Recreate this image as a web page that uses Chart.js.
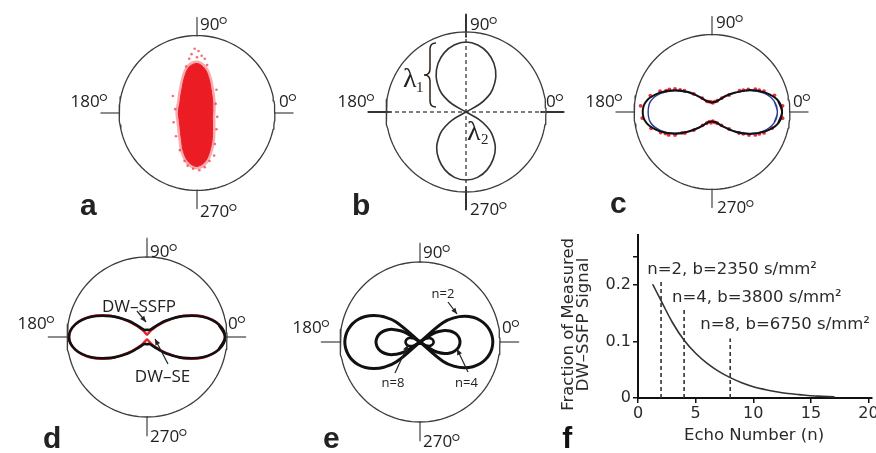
<!DOCTYPE html>
<html><head><meta charset="utf-8">
<script src="https://cdn.jsdelivr.net/npm/chart.js@4.4.0/dist/chart.umd.min.js"></script>
<style>
html,body{margin:0;padding:0;background:#fff;overflow:hidden;width:876px;height:453px;position:relative}
canvas{position:absolute}
</style></head><body>
<canvas id="ca" width="300" height="250" style="left:47px;top:-12px"></canvas>
<canvas id="cb" width="300" height="250" style="left:316px;top:-13px"></canvas>
<canvas id="cc" width="300" height="250" style="left:562px;top:-13px"></canvas>
<canvas id="cd" width="300" height="250" style="left:-3px;top:212px"></canvas>
<canvas id="ce" width="300" height="250" style="left:270px;top:217px"></canvas>
<canvas id="cf" width="321" height="228" style="left:555px;top:225px"></canvas>
<script>
// ================= DATA =================
const ANG10 = [0,10,20,30,40,50,60,70,80,90,100,110,120,130,140,150,160,170,180,190,200,210,220,230,240,250,260,270,280,290,300,310,320,330,340,350];
const TICK_SPAN = [1, 1.23];
const TICK_SPAN_B = [0.94, 1.22];
const FRAME_DIRS = [0, 90, 180, 270];

// (a) dense red point cloud: outline radius per angle + sparse outlying points
const A_CLOUD_R = [.20,.205,.215,.235,.26,.30,.36,.46,.58,.64,.60,.48,.38,.32,.28,.255,.245,.24,.24,.24,.245,.26,.285,.33,.40,.52,.64,.69,.63,.50,.39,.31,.26,.23,.21,.20];
const A_OUT_X = [-0.03,0.02,-0.07,0.06,0.10,-0.10,0.00,0.13,-0.14,-0.31,-0.28,-0.30,-0.27,0.25,0.24,0.26,0.25,0.23,0.22,-0.22,-0.12,0.10,-0.05,0.03,0.16,-0.16];
const A_OUT_Y = [0.83,0.80,0.76,0.74,0.70,0.70,0.72,0.62,0.60,0.22,0.05,-0.12,-0.30,0.30,0.12,-0.05,-0.21,-0.40,-0.55,-0.48,-0.68,-0.70,-0.72,-0.74,-0.62,-0.62];

// (b) two-lobed diffusion profile (lambda1 / lambda2)
const B_UP_ANG = [28,30,35,40,50,60,70,80,90,100,110,120,130,140,145,150,152];
const B_UP_R   = [0,.20,.33,.43,.58,.70,.79,.85,.875,.85,.79,.70,.58,.43,.33,.20,0];
const B_LO_ANG = [332,330,325,320,310,300,290,280,270,260,250,240,230,220,215,210,208];
const B_LO_R   = [0,.19,.32,.42,.57,.68,.77,.83,.85,.83,.77,.68,.57,.42,.32,.19,0];

// (c) measured (black), fit (blue), samples (red)
const C_BLACK_R = [.90,.86,.73,.57,.39,.27,.18,.14,.13,.12,.13,.145,.175,.26,.40,.56,.72,.85,.89,.85,.72,.56,.39,.265,.18,.14,.13,.12,.13,.14,.18,.26,.40,.565,.73,.86];
const C_BLUE_R  = [.84,.81,.71,.555,.385,.26,.18,.14,.13,.125,.13,.14,.18,.26,.385,.55,.70,.80,.82,.80,.70,.55,.385,.26,.18,.14,.13,.125,.13,.14,.18,.26,.385,.555,.71,.81];
const C_RED_ANG = [5,15,25,35,45,55,65,75,85,95,105,115,125,135,145,155,165,175,185,195,205,215,225,235,245,255,265,275,285,295,305,315,325,335,345,355,22,28,32,38,142,148,152,158,202,208,212,218,322,328,332,338];
const C_RED_R   = [.91,.83,.67,.49,.31,.22,.16,.14,.12,.13,.14,.15,.22,.33,.50,.65,.82,.92,.90,.81,.66,.47,.33,.21,.16,.13,.14,.12,.14,.16,.21,.31,.49,.67,.80,.91,.72,.63,.55,.45,.45,.56,.62,.72,.71,.63,.56,.44,.44,.56,.63,.72];

// (d) DW-SSFP (black) vs DW-SE (red)
const D_SSFP_R = [.975,.91,.739,.521,.324,.187,.117,.094,.09,.09,.09,.094,.117,.187,.324,.521,.739,.91,.975,.91,.739,.521,.324,.187,.117,.094,.09,.09,.09,.094,.117,.187,.324,.521,.739,.91];
const D_SE_R   = [.975,.91,.75,.535,.31,.16,.085,.05,.035,.03,.035,.05,.085,.16,.31,.535,.75,.91,.975,.91,.75,.535,.31,.16,.085,.05,.035,.03,.035,.05,.085,.16,.31,.535,.75,.91];

// (e) profiles for n = 2, 4, 8 (right lobe / left lobe)
const E2_RA = [-45,-40,-35,-30,-25,-20,-15,-10,-5,0,5,10,15,20,25,30,35,40,45];
const E2_RR = [0,.379,.532,.643,.730,.797,.847,.882,.903,.91,.903,.882,.847,.797,.730,.643,.532,.379,0];
const E2_LA = [225,220,215,210,205,200,195,190,185,180,175,170,165,160,155,150,145,140,135];
const E2_LR = [0,.39,.55,.665,.755,.825,.875,.91,.932,.94,.932,.91,.875,.825,.755,.665,.55,.39,0];
const E4_RA = [-36,-33,-30,-25,-20,-15,-10,-5,0,5,10,15,20,25,30,33,36];
const E4_RR = [0,.18,.255,.34,.40,.445,.476,.494,.50,.494,.476,.445,.40,.34,.255,.18,0];
const E4_LA = [216,213,210,205,200,195,190,185,180,175,170,165,160,155,150,147,144];
const E4_LR = [0,.20,.28,.373,.441,.49,.524,.543,.55,.543,.524,.49,.441,.373,.28,.20,0];
const E8_RR = [0,.061,.087,.116,.136,.151,.162,.168,.17,.168,.162,.151,.136,.116,.087,.061,0];
const E8_LR = [0,.065,.092,.122,.144,.16,.171,.178,.18,.178,.171,.16,.144,.122,.092,.065,0];

// (f) fraction of measured DW-SSFP signal vs echo number
const ECHO_N = [1.3,2,3,4,5,6,7,8,9,10,11,12,13,14,15,16,17];
const SIGNAL = [0.200,0.172,0.133,0.102,0.079,0.061,0.047,0.036,0.027,0.020,0.015,0.011,0.008,0.006,0.004,0.003,0.002];
const DASH_N = [2,4,8];
const DASH_TOP = [0.207,0.158,0.105];
const F_LABELS = ['n=2, b=2350 s/mm²','n=4, b=3800 s/mm²','n=8, b=6750 s/mm²'];
const X_TICKS = [0,5,10,15,20];
const Y_TICKS = [0,0.1,0.2,0.25];
const Y_TICK_LABELS = ['0','0.1','0.2',''];

// ================= HELPERS =================
const pol = (a, r) => ({x: r*Math.cos(a*Math.PI/180), y: r*Math.sin(a*Math.PI/180)});
const polyline = (angs, rs) => angs.map((a,i) => pol(a, rs[i]));
const closedLoop = (angs, rs) => { const p = polyline(angs, rs); return [p[p.length-1], ...p, p[0], p[1]]; };
const L = (pts, color, w, extra) => Object.assign({type:'line', data:pts, borderColor:color, borderWidth:w, pointRadius:0, fill:false, tension:0, borderCapStyle:'round', borderJoinStyle:'round'}, extra||{});
const P = (pts, color, r) => ({type:'scatter', data:pts, backgroundColor:color, borderWidth:0, pointRadius:r, pointStyle:'circle'});

function frameSets(tickColor, span) {
  const circ = []; for (let a = 0; a <= 360; a += 3) circ.push(pol(a, 1));
  const sets = [L(circ, '#3c3c3c', 1.3)];
  FRAME_DIRS.forEach(a => sets.push(L(span.map(r => pol(a, r)), tickColor, 2)));
  return sets;
}

const SANS = '"Open Sans", "Noto Sans", sans-serif';
const overlay = {
  id: 'overlay',
  afterDatasetsDraw(chart, args, o) {
    if (!o || (!o.texts && !o.arrows && !o.brace)) return;
    const ctx = chart.ctx, sx = chart.scales.x, sy = chart.scales.y;
    const cx = sx.getPixelForValue(0), cy = sy.getPixelForValue(0);
    const X = v => o.data ? sx.getPixelForValue(v) : cx + v;
    const Y = v => o.data ? sy.getPixelForValue(v) : cy + v;
    ctx.save();
    ctx.fillStyle = ctx.strokeStyle = '#222';
    (o.arrows || []).forEach(a => {
      const x1 = X(a[0]), y1 = Y(a[1]), x2 = X(a[2]), y2 = Y(a[3]);
      ctx.lineWidth = 1.2;
      ctx.beginPath(); ctx.moveTo(x1, y1); ctx.lineTo(x2, y2); ctx.stroke();
      const g = Math.atan2(y2-y1, x2-x1), Lh = 6, W = 2.6;
      ctx.beginPath(); ctx.moveTo(x2, y2);
      ctx.lineTo(x2 - Lh*Math.cos(g) + W*Math.sin(g), y2 - Lh*Math.sin(g) - W*Math.cos(g));
      ctx.lineTo(x2 - Lh*Math.cos(g) - W*Math.sin(g), y2 - Lh*Math.sin(g) + W*Math.cos(g));
      ctx.closePath(); ctx.fill();
    });
    if (o.brace) {
      const b = o.brace; // [xTip, xStem, xEnd, yTop, yMid, yBot]
      ctx.lineWidth = 1.5; ctx.strokeStyle = '#2a2218';
      ctx.beginPath();
      ctx.moveTo(X(b[2]), Y(b[3]));
      ctx.quadraticCurveTo(X(b[1]), Y(b[3]), X(b[1]), Y(b[3]+6));
      ctx.lineTo(X(b[1]), Y(b[4]-6));
      ctx.quadraticCurveTo(X(b[1]), Y(b[4]), X(b[0]), Y(b[4]));
      ctx.quadraticCurveTo(X(b[1]), Y(b[4]), X(b[1]), Y(b[4]+6));
      ctx.lineTo(X(b[1]), Y(b[5]-6));
      ctx.quadraticCurveTo(X(b[1]), Y(b[5]), X(b[2]), Y(b[5]));
      ctx.stroke();
    }
    (o.texts || []).forEach(it => {
      const font = it.font || o.font;
      ctx.font = font;
      const w = ctx.measureText(it.t).width;
      let dw = 0;
      if (it.deg) { ctx.font = o.degFont; dw = ctx.measureText('°').width * 0.8; }
      const tot = w + dw;
      ctx.save();
      ctx.translate(X(it.x), Y(it.y));
      if (it.rot) ctx.rotate(it.rot);
      const x0 = it.align === 'right' ? -tot : it.align === 'center' ? -tot/2 : 0;
      ctx.textAlign = 'left';
      ctx.textBaseline = it.base || 'alphabetic';
      ctx.fillStyle = it.color || o.color || '#222';
      ctx.font = font;
      ctx.fillText(it.t, x0, 0);
      if (it.deg) { ctx.font = o.degFont; ctx.fillText('°', x0 + w - 1.5, o.degDy || 0); }
      ctx.restore();
    });
    ctx.restore();
  }
};

const DEG_FONT = '17px ' + SANS;
function degTexts(n, e, w, s) {
  return [
    {t:'90', deg:true, x:n[0], y:n[1]},
    {t:'0', deg:true, x:e[0], y:e[1]},
    {t:'180', deg:true, x:w[0], y:w[1], align:'right'},
    {t:'270', deg:true, x:s[0], y:s[1]}
  ];
}
const LETTER = 'bold 30px "Liberation Sans", Arial, sans-serif';

function polarChart(id, datasets, ov) {
  ov.font = ov.font || DEG_FONT;
  ov.degFont = '300 24px ' + SANS;
  ov.degDy = 4;
  return new Chart(document.getElementById(id), {
    type: 'scatter',
    data: {datasets},
    options: {
      responsive: false, animation: false, events: [],
      layout: {padding: 0},
      plugins: {legend: {display: false}, tooltip: {enabled: false}, overlay: ov},
      scales: {
        x: {type: 'linear', display: false, min: -1.875, max: 1.875},
        y: {type: 'linear', display: false, min: -1.5625, max: 1.5625}
      }
    },
    plugins: [overlay]
  });
}

// ---------- (a) ----------
polarChart('ca', [
  P(A_OUT_X.map((x,i) => ({x, y:A_OUT_Y[i]})), 'rgba(238,50,60,0.7)', 1.3),
  L(closedLoop(ANG10, A_CLOUD_R), '#ec1c24', 1, {fill:'shape', backgroundColor:'#ec1c24', tension:0.35}),
  L(closedLoop(ANG10, A_CLOUD_R), 'rgba(240,70,80,0.45)', 6, {tension:0.35}),
  ...frameSets('#8c8c8c', TICK_SPAN)
], {texts: [
  ...degTexts([3,-83],[82,-6],[-89,-6],[3,104]),
  {t:'a', x:-117, y:102, font:LETTER}
]});

// ---------- (b) ----------
(function(){
  const up = polyline(B_UP_ANG, B_UP_R), lo = polyline(B_LO_ANG, B_LO_R);
  const path = [...up, ...lo.slice(1)];
  polarChart('cb', [
    L(path, '#333', 1.6, {tension:0.35}),
    L([pol(0,1), pol(180,1)], '#555', 1.5, {borderDash:[4,3], borderCapStyle:'butt'}),
    L([pol(90,1), pol(270,1)], '#555', 1.5, {borderDash:[4,3], borderCapStyle:'butt'}),
    ...frameSets('#333', TICK_SPAN_B)
  ], {
    brace: [-42, -36, -30, -69, -37, -5],
    texts: [
      ...degTexts([4,-82],[80,-5],[-91,-5],[4,103]),
      {t:'λ', x:-63, y:-25, font:'28px "Liberation Serif", serif'},
      {t:'1', x:-50, y:-20, font:'15px "Liberation Serif", serif'},
      {t:'λ', x:1, y:28, font:'28px "Liberation Serif", serif'},
      {t:'2', x:15, y:32, font:'15px "Liberation Serif", serif'},
      {t:'b', x:-114, y:103, font:LETTER}
    ]
  });
})();

// ---------- (c) ----------
polarChart('cc', [
  L(closedLoop(ANG10, C_BLACK_R), '#111', 2, {tension:0.3}),
  L(closedLoop(ANG10, C_BLUE_R), '#2b3a9a', 1.4, {tension:0.4}),
  P(polyline(C_RED_ANG, C_RED_R), 'rgba(235,25,35,0.9)', 1.9),
  ...frameSets('#8c8c8c', TICK_SPAN)
], {texts: [
  ...degTexts([4,-84],[81,-5],[-89,-5],[5,101]),
  {t:'c', x:-102, y:101, font:LETTER}
]});

// ---------- (d) ----------
polarChart('cd', [
  L(closedLoop(ANG10, D_SSFP_R), '#111', 2.6, {tension:0.4}),
  L(closedLoop(ANG10, D_SE_R), '#e8202a', 2.4, {tension:0.35}),
  ...frameSets('#8c8c8c', TICK_SPAN)
], {
  arrows: [[-10,-26,-1,-15],[21,27,8,2]],
  texts: [
    ...degTexts([3,-80],[81,-8],[-92,-8],[3,105]),
    {t:'DW–SSFP', x:-8, y:-25, align:'center', font:'17px ' + SANS},
    {t:'DW–SE', x:15.5, y:44.5, align:'center', font:'17px ' + SANS},
    {t:'d', x:-104, y:111, font:LETTER}
  ]
});

// ---------- (e) ----------
polarChart('ce', [
  L([...polyline(E2_RA, E2_RR), ...polyline(E2_LA, E2_LR).slice(1)], '#111', 3, {tension:0.4}),
  L([...polyline(E4_RA, E4_RR), ...polyline(E4_LA, E4_LR).slice(1)], '#111', 3, {tension:0.4}),
  L([...polyline(E4_RA, E8_RR), ...polyline(E4_LA, E8_LR).slice(1)], '#111', 2.6, {tension:0.4}),
  ...frameSets('#8c8c8c', TICK_SPAN)
], {
  arrows: [[28,-40,37,-28],[-25,31,-12,3],[48,30,37,7]],
  texts: [
    ...degTexts([3,-84],[82,-9],[-90,-9],[3,105]),
    {t:'n=2', x:23, y:-44.5, align:'center', font:'13px ' + SANS},
    {t:'n=8', x:-27, y:45, align:'center', font:'13px ' + SANS},
    {t:'n=4', x:46.5, y:45, align:'center', font:'13px ' + SANS},
    {t:'e', x:-97, y:106, font:LETTER}
  ]
});

// ---------- (f) ----------
const FFONT = '"DejaVu Sans", Verdana, sans-serif';
new Chart(document.getElementById('cf'), {
  type: 'scatter',
  data: {datasets: [
    L(ECHO_N.map((n,i) => ({x:n, y:SIGNAL[i]})), '#333', 1.6, {tension:0.4}),
    ...DASH_N.map((n,i) => L([{x:n, y:0}, {x:n, y:DASH_TOP[i]}], '#333', 1.6, {borderDash:[4,3], borderCapStyle:'butt'}))
  ]},
  options: {
    responsive: false, animation: false, events: [],
    layout: {padding: {top: 10, right: 4, left: 0, bottom: 0}},
    plugins: {
      legend: {display: false}, tooltip: {enabled: false},
      overlay: {
        data: true, font: '16.5px ' + FFONT, color: '#2a2a2a',
        texts: [
          {t:F_LABELS[0], x:0.8, y:0.226, base:'middle'},
          {t:F_LABELS[1], x:2.95, y:0.178, base:'middle'},
          {t:F_LABELS[2], x:5.4, y:0.129, base:'middle'},
          {t:'Echo Number (n)', x:10.07, y:-0.066, align:'center', base:'middle'},
          {t:'Fraction of Measured', x:-6.03, y:0.130, align:'center', base:'middle', rot:-Math.PI/2},
          {t:'DW–SSFP Signal', x:-4.73, y:0.130, align:'center', base:'middle', rot:-Math.PI/2},
          {t:'f', x:-6.57, y:-0.089, font:LETTER, color:'#111'}
        ]
      }
    },
    scales: {
      x: {
        type: 'linear', min: 0, max: 20.3,
        afterBuildTicks: s => { s.ticks = X_TICKS.map(v => ({value: v})); },
        afterFit: s => { s.height = 55; s.paddingLeft = 0; s.paddingRight = 0; },
        grid: {display: true, drawOnChartArea: false, drawTicks: true, tickLength: 5, color: '#111', lineWidth: 1.5},
        border: {display: true, color: '#111', width: 2},
        ticks: {font: {family: FFONT, size: 16}, color: '#2a2a2a', padding: 1, maxRotation: 0, autoSkip: false}
      },
      y: {
        type: 'linear', min: 0, max: 0.288,
        afterBuildTicks: s => { s.ticks = Y_TICKS.map(v => ({value: v})); },
        afterFit: s => { s.width = 83; s.paddingTop = 0; s.paddingBottom = 0; },
        grid: {display: true, drawOnChartArea: false, drawTicks: true, tickLength: 5, color: '#111', lineWidth: 1.5},
        border: {display: true, color: '#111', width: 2},
        ticks: {font: {family: FFONT, size: 16}, color: '#2a2a2a', padding: 2, autoSkip: false, callback: (v, i) => Y_TICK_LABELS[i]}
      }
    }
  },
  plugins: [overlay]
});
</script>
</body></html>
